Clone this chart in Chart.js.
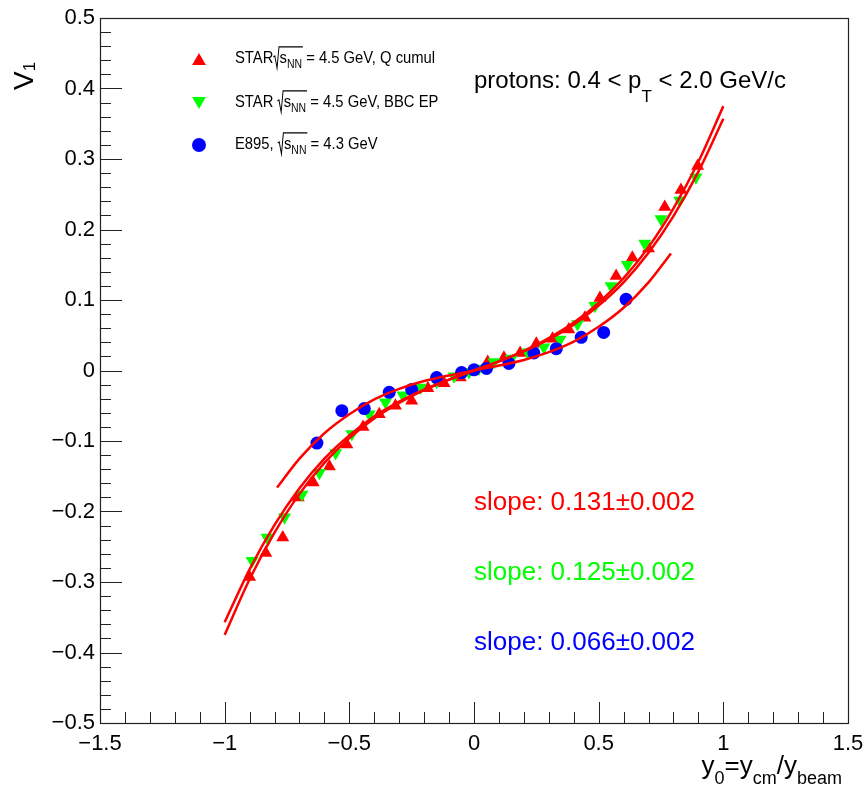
<!DOCTYPE html>
<html>
<head>
<meta charset="utf-8">
<script src="https://cdn.jsdelivr.net/npm/chart.js@4/dist/chart.umd.min.js"></script>
<style>
  body { margin: 0; background: #fff; }
  canvas { display: block; }
</style>
</head>
<body>
<canvas id="v1Chart" width="865" height="790"></canvas>
<script>
// STAR Q cumul (красные треугольники)
const xRed = [-0.90, -0.835, -0.767, -0.705, -0.645, -0.58, -0.51, -0.445, -0.38, -0.315, -0.25, -0.185, -0.12, -0.055,
    0.055, 0.12, 0.185, 0.25, 0.315, 0.38, 0.445, 0.505, 0.57, 0.635, 0.70, 0.765, 0.83, 0.897];
const vRed = [-0.293, -0.259, -0.237, -0.180, -0.159, -0.136, -0.105, -0.080, -0.062, -0.050, -0.043, -0.025, -0.018, -0.010,
    0.012, 0.018, 0.025, 0.038, 0.045, 0.058, 0.075, 0.103, 0.134, 0.160, 0.173, 0.232, 0.256, 0.290];

// STAR BBC EP (зелёные перевёрнутые треугольники)
const xGreen = [-0.89, -0.83, -0.76, -0.69, -0.62, -0.555, -0.49, -0.42, -0.355, -0.285, -0.215, -0.15, -0.08, -0.02,
    0.02, 0.08, 0.15, 0.215, 0.28, 0.345, 0.415, 0.485, 0.55, 0.615, 0.685, 0.75, 0.825, 0.89];
const vGreen = [-0.270, -0.237, -0.208, -0.176, -0.145, -0.117, -0.090, -0.062, -0.045, -0.035, -0.024, -0.016, -0.008, -0.002,
    0.003, 0.012, 0.017, 0.026, 0.033, 0.044, 0.066, 0.092, 0.120, 0.150, 0.180, 0.215, 0.241, 0.274];

// E895 (синие кружки)
const xBlue = [-0.63, -0.53, -0.44, -0.34, -0.25, -0.15, -0.05, 0.0, 0.05, 0.14, 0.24, 0.33, 0.43, 0.52, 0.61];
const vBlue = [-0.103, -0.057, -0.054, -0.031, -0.027, -0.010, -0.003, 0.001, 0.003, 0.010, 0.025, 0.031, 0.047, 0.054, 0.101];

// фиты (красные кривые)
const fitX = [-1, -0.9, -0.8, -0.7, -0.6, -0.5, -0.4, -0.3, -0.2, -0.1, 0, 0.1, 0.2, 0.3, 0.4, 0.5, 0.6, 0.7, 0.8, 0.9, 1];
const fitRed = [-0.375, -0.296, -0.230, -0.175, -0.131, -0.096, -0.068, -0.046, -0.028, -0.013, 0,
    0.013, 0.028, 0.046, 0.068, 0.096, 0.131, 0.175, 0.230, 0.296, 0.375];
const fitGreen = [-0.357, -0.282, -0.219, -0.167, -0.125, -0.092, -0.065, -0.044, -0.027, -0.013, 0,
    0.013, 0.027, 0.044, 0.065, 0.092, 0.125, 0.167, 0.219, 0.282, 0.357];
const fitBlueX = [-0.79, -0.7, -0.6, -0.5, -0.4, -0.3, -0.2, -0.1, 0, 0.1, 0.2, 0.3, 0.4, 0.5, 0.6, 0.7, 0.79];
const fitBlue = [-0.166, -0.125, -0.089, -0.062, -0.041, -0.026, -0.015, -0.007, 0,
    0.007, 0.015, 0.026, 0.041, 0.062, 0.089, 0.125, 0.166];

const FONT = '"Liberation Sans", Arial, sans-serif';

function pts(xs, ys) {
    return xs.map((x, i) => ({ x: x, y: ys[i] }));
}

function fmt(v) {
    const r = Math.round(v * 10) / 10;
    return String(r).replace("-", "\u2212");
}

// текст с индексами
function richText(ctx, x, y, parts) {
    let cx = x;
    parts.forEach(p => {
        ctx.font = p.size + "px " + FONT;
        ctx.fillText(p.t, cx, y + (p.dy || 0));
        cx += ctx.measureText(p.t).width;
    });
    return cx;
}

function richWidth(ctx, parts) {
    let w = 0;
    parts.forEach(p => {
        ctx.font = p.size + "px " + FONT;
        w += ctx.measureText(p.t).width;
    });
    return w;
}

// строка легенды с корнем
function legendRow(ctx, x, y, pre, val) {
    const f = 17;
    ctx.save();
    ctx.translate(x, y);
    ctx.scale(0.87, 1);
    ctx.fillStyle = "#000";
    ctx.strokeStyle = "#000";
    ctx.lineWidth = 1.1;
    ctx.textBaseline = "alphabetic";
    let cx = richText(ctx, 0, 0, [{ t: pre, size: f }]);
    ctx.beginPath();
    ctx.moveTo(cx, -0.35 * f);
    ctx.lineTo(cx + 0.1 * f, -0.42 * f);
    ctx.lineTo(cx + 0.25 * f, 0.3 * f);
    ctx.lineTo(cx + 0.38 * f, -0.95 * f);
    cx += 0.42 * f;
    cx = richText(ctx, cx, 0, [{ t: "s", size: f }, { t: "NN", size: 12, dy: 0.3 * f }]);
    ctx.lineTo(cx + 1, -0.95 * f);
    ctx.stroke();
    richText(ctx, cx, 0, [{ t: " = " + val, size: f }]);
    ctx.restore();
}

const rootDecor = {
    id: "rootDecor",
    afterDraw(chart) {
        const ctx = chart.ctx;
        const a = chart.chartArea;
        const xs = chart.scales.x;
        const ys = chart.scales.y;
        ctx.save();
        ctx.strokeStyle = "#222";
        ctx.lineWidth = 1.2;
        ctx.strokeRect(Math.round(a.left) + 0.5, Math.round(a.top) + 0.5,
            Math.round(a.right - a.left), Math.round(a.bottom - a.top));

        // засечки внутрь рамки
        ctx.lineWidth = 1;
        ctx.beginPath();
        for (let i = -15; i <= 15; i++) {
            const px = Math.round(xs.getPixelForValue(i / 10)) + 0.5;
            const len = i % 5 === 0 ? 21 : 11;
            ctx.moveTo(px, a.bottom);
            ctx.lineTo(px, a.bottom - len);
        }
        for (let i = -25; i <= 25; i++) {
            const py = Math.round(ys.getPixelForValue(i / 50)) + 0.5;
            const len = i % 5 === 0 ? 22 : 11;
            ctx.moveTo(a.left, py);
            ctx.lineTo(a.left + len, py);
        }
        ctx.stroke();

        // легенда
        const h = Chart.helpers;
        ctx.fillStyle = "#ff0000";
        h.drawPoint(ctx, { pointStyle: "triangle", radius: 8, rotation: 0, borderWidth: 0 }, 199, 61);
        ctx.fillStyle = "#00ff00";
        h.drawPoint(ctx, { pointStyle: "triangle", radius: 8, rotation: 180, borderWidth: 0 }, 199, 101);
        ctx.fillStyle = "#0000ff";
        h.drawPoint(ctx, { pointStyle: "circle", radius: 7, rotation: 0, borderWidth: 0 }, 199, 145);
        legendRow(ctx, 235, 63, "STAR", "4.5 GeV, Q cumul");
        legendRow(ctx, 235, 107, "STAR ", "4.5 GeV, BBC EP");
        legendRow(ctx, 235, 149, "E895, ", "4.3 GeV");

        // подписи
        ctx.textBaseline = "alphabetic";
        ctx.fillStyle = "#000";
        richText(ctx, 474, 88, [
            { t: "protons: 0.4 < p", size: 24 },
            { t: "T", size: 17, dy: 14 },
            { t: " < 2.0 GeV/c", size: 24 }
        ]);
        ctx.fillStyle = "#ff0000";
        richText(ctx, 474, 510, [{ t: "slope: 0.131\u00b10.002", size: 26 }]);
        ctx.fillStyle = "#00ff00";
        richText(ctx, 474, 580, [{ t: "slope: 0.125\u00b10.002", size: 26 }]);
        ctx.fillStyle = "#0000ff";
        richText(ctx, 474, 650, [{ t: "slope: 0.066\u00b10.002", size: 26 }]);

        // заголовки осей
        ctx.fillStyle = "#000";
        const xt = [
            { t: "y", size: 26 }, { t: "0", size: 18, dy: 10 },
            { t: "=y", size: 26 }, { t: "cm", size: 18, dy: 10 },
            { t: "/y", size: 26 }, { t: "beam", size: 18, dy: 10 }
        ];
        richText(ctx, 842 - richWidth(ctx, xt), 774, xt);

        ctx.save();
        ctx.translate(33, 90);
        ctx.rotate(-Math.PI / 2);
        richText(ctx, 0, 0, [{ t: "V", size: 28 }, { t: "1", size: 17, dy: 2 }]);
        ctx.restore();

        ctx.restore();
    }
};

const tickFont = { family: FONT, size: 22 };

new Chart(document.getElementById("v1Chart"), {
    type: "scatter",
    data: {
        datasets: [
            {
                type: "line", data: pts(fitX, fitRed), borderColor: "#ff0000", borderWidth: 2.5,
                pointRadius: 0, cubicInterpolationMode: "monotone", order: 0
            },
            {
                type: "line", data: pts(fitX, fitGreen), borderColor: "#ff0000", borderWidth: 2.5,
                pointRadius: 0, cubicInterpolationMode: "monotone", order: 0
            },
            {
                type: "line", data: pts(fitBlueX, fitBlue), borderColor: "#ff0000", borderWidth: 2.5,
                pointRadius: 0, cubicInterpolationMode: "monotone", order: 0
            },
            {
                label: "E895", data: pts(xBlue, vBlue), pointStyle: "circle", pointRadius: 6.5,
                backgroundColor: "#0000ff", borderColor: "#0000ff", borderWidth: 0, order: 1
            },
            {
                label: "STAR BBC EP", data: pts(xGreen, vGreen), pointStyle: "triangle", pointRotation: 180,
                pointRadius: 7.5, backgroundColor: "#00ff00", borderColor: "#00ff00", borderWidth: 0, order: 2
            },
            {
                label: "STAR Q cumul", data: pts(xRed, vRed), pointStyle: "triangle", pointRadius: 7.5,
                backgroundColor: "#ff0000", borderColor: "#ff0000", borderWidth: 0, order: 3
            }
        ]
    },
    options: {
        responsive: false,
        animation: false,
        devicePixelRatio: 1,
        layout: { padding: { top: 18, right: 17, left: 0, bottom: 0 } },
        plugins: { legend: { display: false }, tooltip: { enabled: false } },
        scales: {
            x: {
                type: "linear", min: -1.5, max: 1.5,
                ticks: { stepSize: 0.5, font: tickFont, color: "#000", padding: 8, maxRotation: 0, autoSkip: false, callback: fmt },
                grid: { display: false, drawTicks: false },
                border: { display: false },
                afterFit(s) { s.height = 67; s.paddingLeft = 0; s.paddingRight = 0; }
            },
            y: {
                type: "linear", min: -0.5, max: 0.5,
                ticks: { stepSize: 0.1, font: tickFont, color: "#000", padding: 5, autoSkip: false, callback: fmt },
                grid: { display: false, drawTicks: false },
                border: { display: false },
                afterFit(s) { s.width = 100; s.paddingTop = 0; s.paddingBottom = 0; }
            }
        }
    },
    plugins: [rootDecor]
});
</script>
</body>
</html>
